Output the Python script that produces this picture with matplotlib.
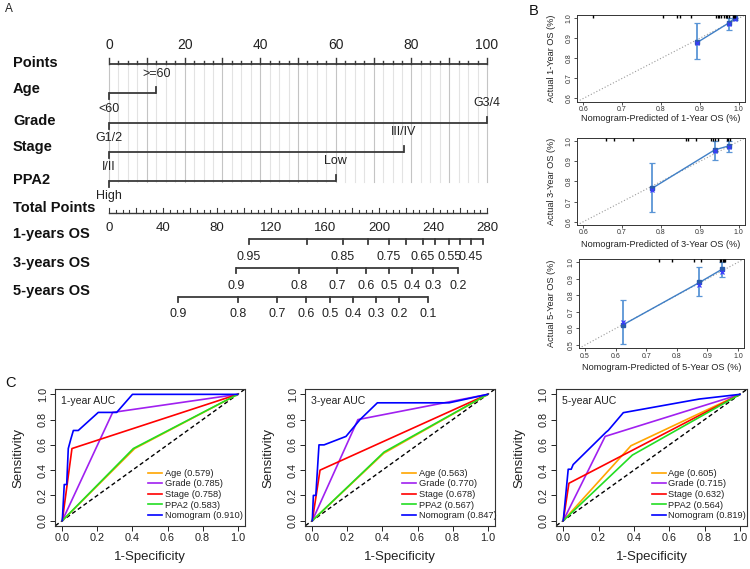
import numpy as np
import matplotlib
matplotlib.use('Agg')
import matplotlib.pyplot as plt

plt.rcParams['font.family'] = ['Liberation Sans', 'DejaVu Sans']

# ---------------- data: nomogram (A) ----------------
points_labels = [0, 20, 40, 60, 80, 100]
age_levels = ['<60', '>=60']
age_points = [0, 12.5]
grade_levels = ['G1/2', 'G3/4']
grade_points = [0, 100]
stage_levels = ['I/II', 'III/IV']
stage_points = [0, 78]
ppa2_levels = ['High', 'Low']
ppa2_points = [0, 60]
total_points_labels = [0, 40, 80, 120, 160, 200, 240, 280]
os1_probs = [0.95, 0.90, 0.85, 0.80, 0.75, 0.70, 0.65, 0.60, 0.55, 0.50, 0.45, 0.40]
os1_total = [103.7, 146.7, 173.3, 191.9, 207.4, 220.0, 232.6, 241.5, 251.9, 260.0, 268.1, 277.0]
os1_labelled = ['0.95', '0.85', '0.75', '0.65', '0.55', '0.45']
os3_probs = [0.9, 0.8, 0.7, 0.6, 0.5, 0.4, 0.3, 0.2]
os3_total = [94.1, 140.7, 168.9, 190.4, 207.4, 224.4, 240.0, 258.5]
os5_probs = [0.9, 0.8, 0.7, 0.6, 0.5, 0.4, 0.3, 0.2, 0.1]
os5_total = [51.1, 95.6, 124.4, 145.9, 163.7, 180.7, 197.8, 214.8, 236.3]

# ---------------- data: calibration (B) ----------------
cal_years = [1, 3, 5]
cal_pred = [[0.893, 0.974, 0.989], [0.777, 0.938, 0.975], [0.624, 0.874, 0.948]]
cal_obs = [[0.879, 0.976, 0.999], [0.766, 0.957, 0.977], [0.622, 0.878, 0.958]]
cal_lo = [[0.795, 0.940, 0.993], [0.650, 0.907, 0.945], [0.504, 0.794, 0.910]]
cal_hi = [[0.976, 1.000, 1.000], [0.890, 1.000, 1.000], [0.770, 0.974, 1.000]]
cal_bc = [[0.876, 0.971, 0.997], [0.760, 0.952, 0.973], [0.642, 0.860, 0.940]]
cal_rug = [
    [0.625, 0.806, 0.840, 0.848, 0.876, 0.942, 0.946, 0.950, 0.955, 0.962, 0.966, 0.970, 0.974, 0.985, 0.988, 0.991],
    [0.659, 0.680, 0.727, 0.864, 0.870, 0.890, 0.928, 0.934, 0.940, 0.946, 0.969, 0.973, 0.977],
    [0.742, 0.785, 0.855, 0.880, 0.942, 0.946, 0.950, 0.954, 0.957],
]
cal_axis_min = [0.6, 0.6, 0.5]

# ---------------- data: ROC (C) ----------------
roc_titles = ['1-year AUC', '3-year AUC', '5-year AUC']
model_names = ['Age', 'Grade', 'Stage', 'PPA2', 'Nomogram']
model_colors = ['#FFA500', '#A020F0', '#FF0000', '#22DD22', '#0000FF']
auc = [[0.579, 0.785, 0.758, 0.583, 0.910],
       [0.563, 0.770, 0.678, 0.567, 0.847],
       [0.605, 0.715, 0.632, 0.564, 0.819]]
age_fpr = [[0, 0.413, 1], [0, 0.407, 1], [0, 0.383, 1]]
age_tpr = [[0, 0.571, 1], [0, 0.533, 1], [0, 0.593, 1]]
grade_fpr = [[0, 0.287, 1], [0, 0.260, 1], [0, 0.237, 1]]
grade_tpr = [[0, 0.857, 1], [0, 0.800, 1], [0, 0.667, 1]]
stage_fpr = [[0, 0.055, 1], [0, 0.044, 1], [0, 0.032, 1]]
stage_tpr = [[0, 0.571, 1], [0, 0.400, 1], [0, 0.296, 1]]
ppa2_fpr = [[0, 0.405, 1], [0, 0.409, 1], [0, 0.391, 1]]
ppa2_tpr = [[0, 0.571, 1], [0, 0.543, 1], [0, 0.519, 1]]
nomo_fpr = [[0, 0.011, 0.025, 0.034, 0.048, 0.063, 0.091, 0.205, 0.310, 0.400, 1.0],
            [0, 0.006, 0.020, 0.038, 0.067, 0.192, 0.272, 0.371, 0.780, 1.0],
            [0, 0.028, 0.045, 0.056, 0.242, 0.255, 0.340, 0.770, 1.0]]
nomo_tpr = [[0, 0.286, 0.286, 0.571, 0.643, 0.714, 0.714, 0.857, 0.857, 1.0, 1.0],
            [0, 0.200, 0.200, 0.600, 0.600, 0.667, 0.800, 0.933, 0.933, 1.0],
            [0, 0.407, 0.407, 0.444, 0.700, 0.715, 0.855, 0.963, 1.0]]

# ---------------- figure ----------------
W, H = 750, 569
fig = plt.figure(figsize=(7.5, 5.69), dpi=100)


def box(l, t, r, b):
    return [l / W, 1 - b / H, (r - l) / W, (b - t) / H]


# ======== A: nomogram ========
PX = 3.78
axA = fig.add_axes(box(0, 30, 520, 335))
axA.set_xlim(-109 / PX, (520 - 109) / PX)
axA.set_ylim(335, 30)
axA.axis('off')
dark = '#3a3a3a'
LW = 1.3
tp_scale = 100 / total_points_labels[-1]

y_pts, y_age, y_grade, y_stage, y_ppa2 = 64, 93.3, 122.7, 151.7, 181
y_tot, y_os1, y_os3, y_os5 = 213, 239.3, 268.3, 296.7

# grid
for v in np.arange(0, 100.01, 2.5):
    c = '#c4c4c4' if abs(v % 10) < 1e-6 else '#e3e3e3'
    axA.plot([v, v], [y_pts, y_ppa2 + 1], color=c, lw=0.8, zorder=0)

# points axis
axA.plot([0, 100], [y_pts, y_pts], color=dark, lw=LW, solid_capstyle='butt')
for v in np.arange(0, 100.01, 2.5):
    L = 6 if abs(v % 10) < 1e-6 else 3
    axA.plot([v, v], [y_pts, y_pts - L], color=dark, lw=1.0)
for v in points_labels:
    axA.text(v, 45, str(v), ha='center', va='center', fontsize=10, color='#222222')


def cat_row(y, pts, levels):
    axA.plot([min(pts), max(pts)], [y, y], color=dark, lw=LW, solid_capstyle='butt')
    for i, (p, lab) in enumerate(zip(pts, levels)):
        if i == 0:
            axA.plot([p, p], [y, y + 6], color=dark, lw=LW)
            axA.text(p, y + 15.5, lab, ha='center', va='center', fontsize=9, color='#222222')
        else:
            axA.plot([p, p], [y, y - 6], color=dark, lw=LW)
            axA.text(p, y - 19.5, lab, ha='center', va='center', fontsize=9, color='#222222')


cat_row(y_age, age_points, age_levels)
cat_row(y_grade, grade_points, grade_levels)
cat_row(y_stage, stage_points, stage_levels)
cat_row(y_ppa2, ppa2_points, ppa2_levels)

# total points axis
axA.plot([0, 100], [y_tot, y_tot], color=dark, lw=1.0)
for v in np.arange(0, total_points_labels[-1] + 0.1, 5):
    L = 5 if v % 20 == 0 else 3
    axA.plot([v * tp_scale] * 2, [y_tot, y_tot - L], color=dark, lw=0.8)
for v in total_points_labels:
    axA.text(v * tp_scale, 228.3, str(v), ha='center', va='center', fontsize=9.5, color='#222222')


def os_row(y, totals, probs, fmt, shown=None):
    xs = [t * tp_scale for t in totals]
    axA.plot([min(xs), max(xs)], [y, y], color=dark, lw=LW, solid_capstyle='butt')
    for x, p in zip(xs, probs):
        axA.plot([x, x], [y, y + 5], color=dark, lw=LW)
        s = fmt.format(p)
        if shown is None or s in shown:
            axA.text(x, y + 17.5, s, ha='center', va='center', fontsize=9, color='#222222')


os_row(y_os1, os1_total, os1_probs, '{:.2f}', os1_labelled)
os_row(y_os3, os3_total, os3_probs, '{:.1f}')
os_row(y_os5, os5_total, os5_probs, '{:.1f}')

row_names = ['Points', 'Age', 'Grade', 'Stage', 'PPA2', 'Total Points', '1-years OS', '3-years OS', '5-years OS']
row_label_y = [62.7, 89.3, 120.7, 146.7, 180, 208.3, 234.3, 262.7, 291]
for name, yy in zip(row_names, row_label_y):
    axA.text(-96 / PX, yy, name, ha='left', va='center', fontsize=10.5, fontweight='bold', color='#111111')

fig.text(5 / W, 1 - 9 / H, 'A', fontsize=8.5, va='center', ha='left', color='#222222')
fig.text(529 / W, 1 - 11 / H, 'B', fontsize=10.5, va='center', ha='left', color='#111111')
fig.text(5 / W, 1 - 383 / H, 'C', fontsize=10.5, va='center', ha='left', color='#111111')

# ======== B: calibration ========
cal_boxes = [(577, 15, 745, 101.7), (577, 138, 745, 225), (579, 259, 744, 348.3)]
cal_xlab_y = [118, 245, 367]
for k in range(3):
    l, t, r, b = cal_boxes[k]
    ax = fig.add_axes(box(l, t, r, b))
    lo = cal_axis_min[k]
    ext = (1.0 - lo) * 0.04
    ax.set_xlim(lo - ext, 1.0 + ext)
    ax.set_ylim(lo - ext, 1.0 + ext)
    ax.axline((0, 0), (1, 1), color='#9a9a9a', lw=0.8, ls=(0, (1, 1.8)), zorder=1)
    pred = np.array(cal_pred[k]); obs = np.array(cal_obs[k])
    ax.plot(pred, obs, color='#3f7fc6', lw=1.0, zorder=3)
    ax.errorbar(pred, obs, yerr=[obs - np.array(cal_lo[k]), np.array(cal_hi[k]) - obs],
                fmt='none', ecolor='#5a95d6', elinewidth=1.3, capsize=2, capthick=0.9, zorder=2)
    ax.plot(pred, obs, 's', color='#2a5caa', ms=3, zorder=4)
    ax.plot(pred, cal_bc[k], 'x', color='#3a3aff', ms=3, mew=0.9, zorder=5)
    ax.vlines(cal_rug[k], 0.965, 1.0, transform=ax.get_xaxis_transform(), color='black', lw=1.0, zorder=6)
    ticks = np.round(np.arange(lo, 1.0001, 0.1), 1)
    ax.set_xticks(ticks)
    ax.set_yticks(ticks)
    ax.set_xticklabels([f'{v:.1f}' for v in ticks])
    ax.set_yticklabels([f'{v:.1f}' for v in ticks])
    ax.tick_params(labelsize=5, length=2.2, width=0.6, pad=1, colors='#333333')
    ax.tick_params(axis='y', labelrotation=90)
    for lab in ax.get_yticklabels():
        lab.set_va('center')
    for s in ax.spines.values():
        s.set_linewidth(0.7)
        s.set_color('#333333')
    ax.set_xlabel(f'Nomogram-Predicted of {cal_years[k]}-Year OS (%)', fontsize=6.6, color='#222222')
    ax.set_ylabel(f'Actual {cal_years[k]}-Year OS (%)', fontsize=6.6, color='#222222')
    ax.xaxis.set_label_coords(0.5, (b - cal_xlab_y[k]) / (b - t))
    ax.xaxis.label.set_va('center')
    ax.yaxis.set_label_coords((552 - l) / (r - l), 0.5)
    ax.yaxis.label.set_va('center')

# ======== C: ROC ========
roc_boxes = [(55.3, 389.3, 244.7, 525.7), (305.3, 389.3, 494.7, 525.7), (556.2, 389.3, 747.0, 525.7)]
legend_x = [0.49, 0.51, 0.50]
fprs = [age_fpr, grade_fpr, stage_fpr, ppa2_fpr, nomo_fpr]
tprs = [age_tpr, grade_tpr, stage_tpr, ppa2_tpr, nomo_tpr]
for k in range(3):
    l, t, r, b = roc_boxes[k]
    ax = fig.add_axes(box(l, t, r, b))
    ax.set_xlim(-0.04, 1.04)
    ax.set_ylim(-0.04, 1.04)
    ax.axline((0, 0), (1, 1), color='black', lw=1.0, ls=(0, (3, 2)), zorder=1)
    for m in range(5):
        ax.plot(fprs[m][k], tprs[m][k], color=model_colors[m], lw=1.2,
                label=f'{model_names[m]} ({auc[k][m]:.3f})', zorder=2 + m)
    ax.text(0.03, 0.915, roc_titles[k], transform=ax.transAxes, fontsize=7.6,
            ha='left', va='center', color='#222222')
    leg = ax.legend(loc='lower left', bbox_to_anchor=(legend_x[k], 0.04),
                    frameon=False, fontsize=6.7, handlelength=1.5, handletextpad=0.3,
                    labelspacing=0.17, borderpad=0, borderaxespad=0)
    for txt in leg.get_texts():
        txt.set_color('#222222')
    ticks = np.round(np.arange(0, 1.0001, 0.2), 1)
    ax.set_xticks(ticks)
    ax.set_yticks(ticks)
    ax.set_xticklabels([f'{v:.1f}' for v in ticks])
    ax.set_yticklabels([f'{v:.1f}' for v in ticks])
    ax.tick_params(labelsize=7.8, length=3.5, width=0.7, pad=2, colors='#222222')
    ax.tick_params(axis='y', labelrotation=90)
    for lab in ax.get_yticklabels():
        lab.set_va('center')
    for s in ax.spines.values():
        s.set_linewidth(0.8)
        s.set_color('#333333')
    ax.set_xlabel('1-Specificity', fontsize=9.5, color='#222222')
    ax.set_ylabel('Sensitivity', fontsize=9.5, color='#222222')
    ax.xaxis.set_label_coords(0.5, (b - 556.7) / (b - t))
    ax.xaxis.label.set_va('center')
    ax.yaxis.set_label_coords(-37 / (r - l), 0.5)
    ax.yaxis.label.set_va('center')

fig.savefig('out.png', dpi=100)
